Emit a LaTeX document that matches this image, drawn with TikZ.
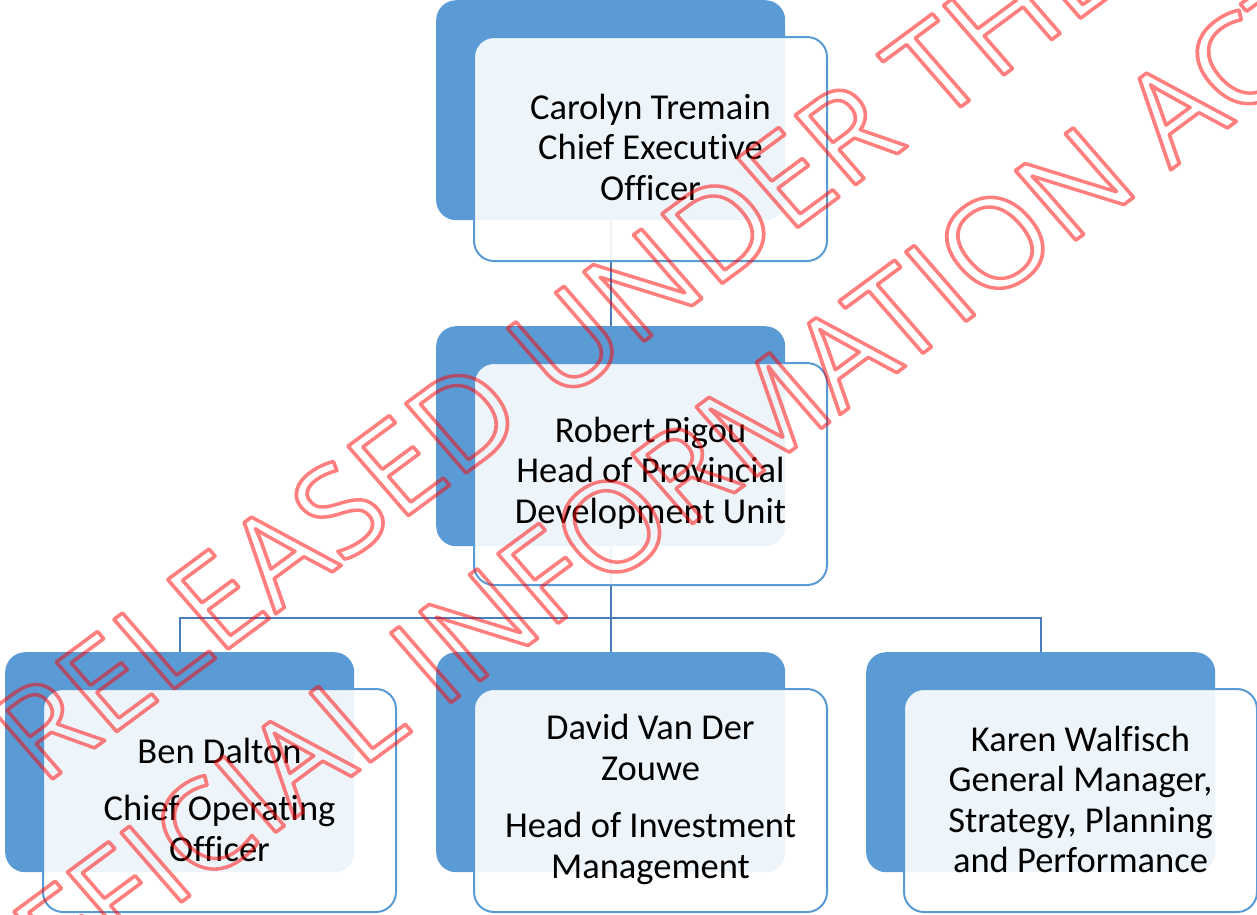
\documentclass[tikz,border=0pt]{standalone}
\usepackage{fontspec}
\setmainfont{Carlito}[Ligatures=NoCommon]
\newfontfamily\wmfont{Open Sans}
\definecolor{boxblue}{HTML}{5B9BD5}
\definecolor{linkblue}{HTML}{4A7EBB}
\newcommand{\outlinetext}[1]{\special{pdf:literal direct 1 0 0 RG 3.6 w 1 j 1 Tr}#1\special{pdf:literal direct 0 Tr}}
\tikzset{
  bluebox/.style={fill=boxblue, rounded corners=20pt, inner sep=0pt,
    minimum width=349pt, minimum height=220pt, anchor=north west},
  frontbox/.style={draw=boxblue, line width=2pt, fill=white, fill opacity=0.9,
    rounded corners=20pt, inner sep=0pt,
    minimum width=353pt, minimum height=223pt, anchor=north west},
  txt/.style={inner sep=0pt, align=center, font=\fontsize{36.5}{40.5}\selectfont, text=black},
  conn/.style={draw=linkblue, line width=2pt},
  wm/.style={inner sep=0pt, transform shape, draw opacity=0.5, opacity=0.5,
    font=\wmfont\fontsize{129}{150}\selectfont}
}
\begin{document}
\begin{tikzpicture}[x=1pt,y=1pt]
\fill[white] (0,0) rectangle (1257,-914);
\useasboundingbox (0,0) rectangle (1257,-914);
% back boxes
\node[bluebox] (b1) at (436,0) {};
\node[bluebox] (b2) at (436,-326) {};
\node[bluebox] (c1) at (5,-652) {};
\node[bluebox] (c2) at (436,-652) {};
\node[bluebox] (c3) at (866,-652) {};
% connectors
\coordinate (j) at (610.5,-618);
\draw[conn] (b1.south) -- (b2.north);
\draw[conn] (b2.south) -- (c2.north);
\draw[conn] (c1.north) -- (c1.north |- j) -- (c3.north |- j) -- (c3.north);
% front boxes
\node[frontbox, minimum height=224pt] (f1) at (473,-36) {};
\node[frontbox, minimum height=222pt] (f2) at (473,-362) {};
\node[frontbox] (g1) at (42,-688) {};
\node[frontbox] (g2) at (473,-688) {};
\node[frontbox] (g3) at (903,-688) {};
% texts
\node[txt] (t1) at ([yshift=2pt]f1.center) {Carolyn Tremain\\Chief Executive\\Officer};
\node[txt] (t2) at ([yshift=1pt]f2.center) {Robert Pigou\\Head of Provincial\\Development Unit};
\node[txt] (u1) at ([yshift=1pt]g1.center) {Ben Dalton\\[17pt]Chief Operating\\Officer};
\node[txt] (u2) at ([yshift=1pt]g2.center) {David Van Der\\Zouwe\\[17pt]Head of Investment\\Management};
\node[txt] (u3) at ([yshift=1pt]g3.center) {Karen Walfisch\\General Manager,\\Strategy, Planning\\and Performance};
% watermark
\begin{scope}[cm={0.804,0.595,-0.656,0.755,(555,-350)}]
\node[wm] (w1) at (0,0) {\outlinetext{RELEASED UNDER THE}};
\node[wm] (w2) at (-38,-176) {\outlinetext{OFFICIAL INFORMATION ACT}};
\end{scope}
\end{tikzpicture}
\end{document}
